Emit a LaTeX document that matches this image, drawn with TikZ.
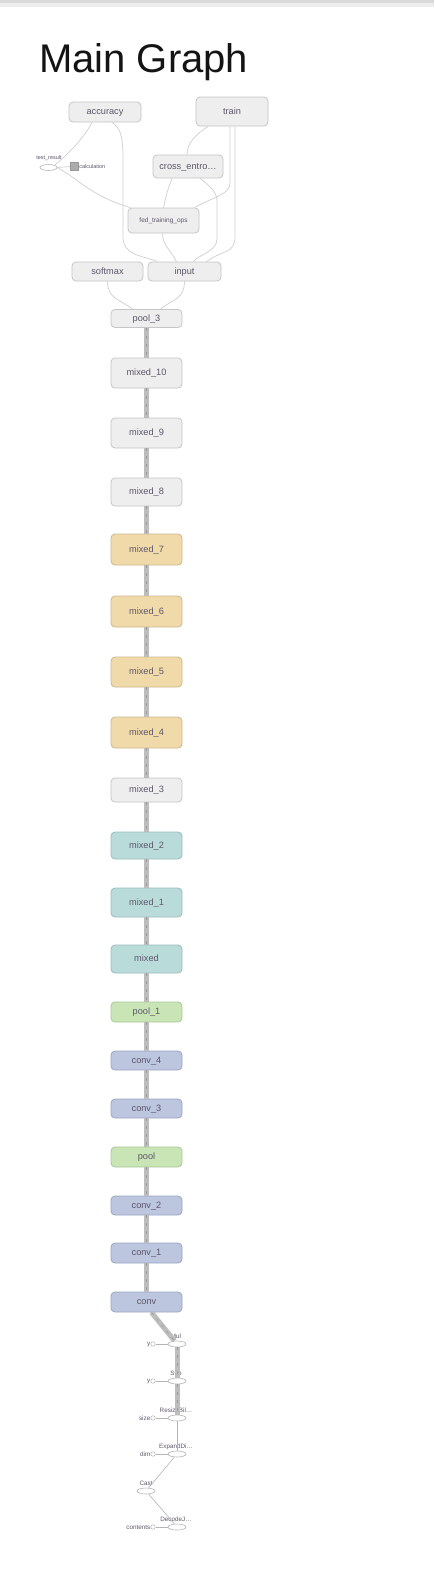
\documentclass[tikz,border=0pt]{standalone}
\usepackage{fontspec}
\setmainfont{Liberation Sans}
\usepackage{tikz}
\usetikzlibrary{shapes.geometric,backgrounds}
\definecolor{ink}{HTML}{141414}
\definecolor{labelink}{HTML}{5D566A}
\definecolor{grayfill}{HTML}{EEEEEE}
\definecolor{grayline}{HTML}{C6C6C6}
\definecolor{tanfill}{HTML}{F1DAA9}
\definecolor{tanline}{HTML}{CDB68A}
\definecolor{tealfill}{HTML}{B9DCDB}
\definecolor{tealline}{HTML}{9BBCBB}
\definecolor{greenfill}{HTML}{C9E5B5}
\definecolor{greenline}{HTML}{A9C69A}
\definecolor{bluefill}{HTML}{BCC6DF}
\definecolor{blueline}{HTML}{9AA6C3}
\definecolor{spinegray}{HTML}{BDBDBD}
\definecolor{spinedark}{HTML}{9A9A9A}
\definecolor{edgegray}{HTML}{CFCFCF}
\definecolor{dotline}{HTML}{B5B5B5}

\tikzset{
  opbox/.style={rectangle, rounded corners=4pt, draw=#1line, fill=#1fill, line width=0.8pt,
    minimum width=71pt, inner sep=0pt, text height=6.8pt, text depth=1.6pt,
    font=\fontsize{9.2}{10}\selectfont, text=labelink},
  opdot/.style={ellipse, draw=dotline, fill=white, line width=0.6pt,
    minimum width=18pt, minimum height=6pt, inner sep=0pt},
  constdot/.style={circle, draw=dotline, fill=white, line width=0.5pt, minimum size=4.5pt, inner sep=0pt},
  tinylbl/.style={font=\fontsize{6.3}{7}\selectfont, text=labelink, inner sep=0pt},
  dep/.style={draw=edgegray, line width=0.7pt},
  thinedge/.style={draw=dotline, line width=0.6pt},
  spine/.style={draw=spinegray, line width=5pt,
    postaction={draw=spinedark, line width=0.6pt, dash pattern=on 3pt off 5pt}}
}

\begin{document}
\begin{tikzpicture}[x=1pt,y=-1pt]
  \useasboundingbox (0,0) rectangle (434,1582);
  \fill[white] (0,0) rectangle (434,1582);
  \fill[gray!30] (0,0) rectangle (434,3);
  \fill[gray!14] (0,3) rectangle (434,7);

  \node[anchor=base west, font=\fontsize{40}{40}\selectfont, text=ink, inner sep=0pt] (title) at (39,72) {Main Graph};

  % top part
  \node[opbox=gray, minimum width=72pt, minimum height=20pt] (accuracy) at (105,112) {accuracy};
  \node[opbox=gray, minimum width=72pt, minimum height=29pt] (train) at (232,111.5) {train};
  \node[opbox=gray, minimum width=70pt, minimum height=23pt] (cross) at (188,166.5) {cross\_entro\ldots};
  \node[opbox=gray, minimum height=25pt, font=\fontsize{6.5}{7}\selectfont, text height=4.8pt, text depth=1.2pt] (fedops) at (163.5,220.5) {fed\_training\_ops};
  \node[opbox=gray, minimum height=19pt] (softmax) at (107.5,271.5) {softmax};
  \node[opbox=gray, minimum width=73pt, minimum height=19pt] (input) at (184.5,271.5) {input};

  \node[opdot, minimum width=17pt] (testres) at (48.5,167.5) {};
  \node[tinylbl, anchor=base, font=\fontsize{5.5}{6}\selectfont] (testres-lbl) at (49,159) {test\_result};
  \node[rectangle, fill=gray!65, draw=gray!80, minimum size=8pt, inner sep=0pt] (calc) at (74,166.5) {};
  \node[tinylbl, anchor=west, font=\fontsize{5.5}{6}\selectfont] (calc-lbl) at (calc.east) {\,calculation};

  \draw[dep] ([xshift=-13pt]accuracy.south) .. controls +(-8,16) and +(12,-10) .. (testres.north east);
  \draw[dep] ([xshift=7pt]accuracy.south) .. controls +(10,6) and +(0,-22) .. ++(11,40)
    -- ++(0,74) .. controls +(0,20) and +(-14,-6) .. ([xshift=-27pt]input.north);
  \draw[dep] (testres.east) .. controls +(25,14) and +(-40,-12) .. ([xshift=-33pt]fedops.north);
  \draw[dep] (testres.east) -- (calc.west);
  \draw[dep] ([xshift=-24pt]train.south) .. controls +(-12,8) and +(0,-12) .. ([xshift=-1pt]cross.north);
  \draw[dep] ([xshift=-2pt]train.south) -- ++(0,56) .. controls +(0,12) and +(22,-12) .. ([xshift=31pt]fedops.north);
  \draw[dep] ([xshift=3pt]train.south) -- ++(0,110) .. controls +(0,18) and +(16,-12) .. ([xshift=22pt]input.north);
  \draw[dep] ([xshift=-16pt]cross.south) .. controls +(-4,10) and +(2,-10) .. (fedops.north);
  \draw[dep] ([xshift=12pt]cross.south) .. controls +(5,4) and +(0,-10) .. ++(17,22)
    -- ++(0,38) .. controls +(0,14) and +(6,-8) .. ([xshift=9pt]input.north);
  \draw[dep] ([xshift=-1pt]fedops.south) .. controls +(0,12) and +(-6,-12) .. ([xshift=-8pt]input.north);

  % main column
  \foreach \y/\h/\n/\lbl/\col in {
      318.5/18/pool3/pool\_3/gray,
      373/30/mixed10/mixed\_10/gray,
      433/30/mixed9/mixed\_9/gray,
      492/28/mixed8/mixed\_8/gray,
      549.5/31/mixed7/mixed\_7/tan,
      611.5/31/mixed6/mixed\_6/tan,
      672/30/mixed5/mixed\_5/tan,
      732.5/31/mixed4/mixed\_4/tan,
      790/24/mixed3/mixed\_3/gray,
      845.5/27/mixed2/mixed\_2/teal,
      902.5/29/mixed1/mixed\_1/teal,
      959/28/mixed/mixed/teal,
      1012/20/pool1/pool\_1/green,
      1060.5/19/conv4/conv\_4/blue,
      1108.5/19/conv3/conv\_3/blue,
      1157/20/pool/pool/green,
      1205.5/19/conv2/conv\_2/blue,
      1253/20/conv1/conv\_1/blue,
      1302/20/conv/conv/blue}{
    \node[opbox=\col, minimum height=\h pt] (\n) at (146.5,\y) {\lbl};
  }
  \foreach \a/\b in {pool3/mixed10, mixed10/mixed9, mixed9/mixed8, mixed8/mixed7, mixed7/mixed6,
      mixed6/mixed5, mixed5/mixed4, mixed4/mixed3, mixed3/mixed2, mixed2/mixed1, mixed1/mixed,
      mixed/pool1, pool1/conv4, conv4/conv3, conv3/pool, pool/conv2, conv2/conv1, conv1/conv}{
    \draw[spine] (\a) -- (\b);
  }
  \draw[dep] (softmax.south) .. controls +(0,18) and +(-12,-10) .. ([xshift=-14pt]pool3.north);
  \draw[dep] (input.south) .. controls +(0,18) and +(12,-10) .. ([xshift=14pt]pool3.north);

  % input pipeline
  \foreach \y/\n/\lbl/\k in {1344/mul/Mul/y, 1381/sub/Sub/y, 1418/resize/ResizeBil\ldots/size,
      1454/expand/ExpandDi\ldots/dim, 1527/decode/DecodeJ\ldots/contents}{
    \node[opdot] (\n) at (177,\y) {};
    \node[tinylbl, anchor=base] (\n-lbl) at (176,\y-6) {\lbl};
    \node[constdot] (\n-k) at (153,\y) {};
    \node[tinylbl, anchor=east] (\n-klbl) at (150.5,\y) {\k};
    \draw[thinedge] (\n-k) -- (\n);
  }
  \node[opdot] (cast) at (146,1491) {};
  \node[tinylbl, anchor=base] (cast-lbl) at (146,1485) {Cast};

  \draw[spine] ([xshift=5pt]conv.south) -- (mul);
  \draw[spine] (mul) -- (sub);
  \draw[spine] (sub) -- (resize);
  \draw[thinedge] (resize) -- (expand);
  \draw[thinedge] (expand) -- (cast);
  \draw[thinedge] (cast) -- (decode);
\end{tikzpicture}
\end{document}
